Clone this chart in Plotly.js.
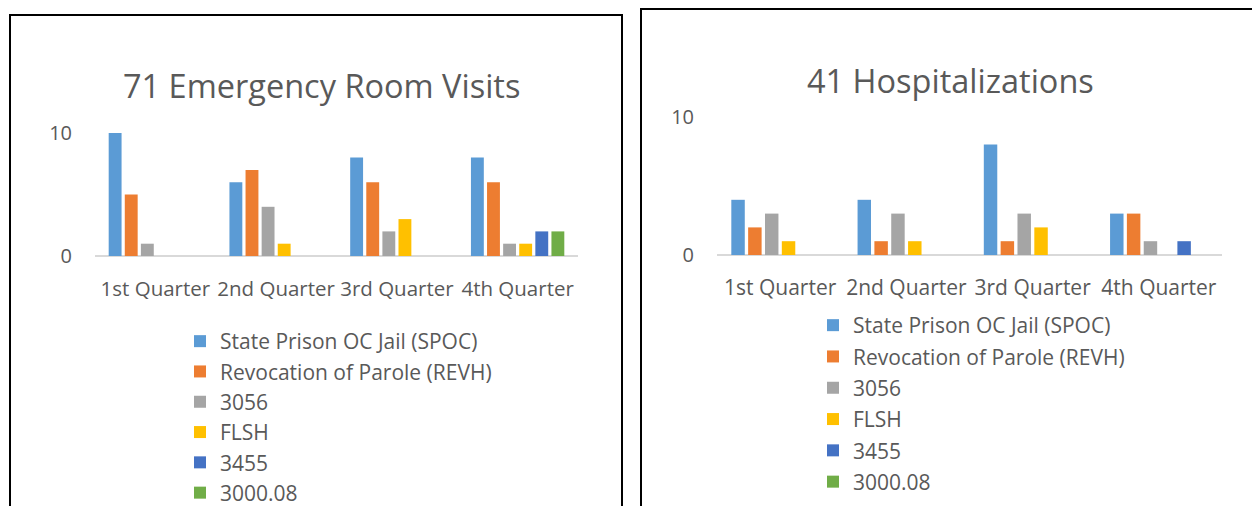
<!DOCTYPE html>
<html><head><meta charset="utf-8">
<script src="https://cdn.plot.ly/plotly-3.0.1.min.js"></script>
<style>html,body{margin:0;padding:0;background:#fff;overflow:hidden;width:1252px;height:506px}#c{width:1252px;height:560px}</style>
</head><body><div id="c"></div>
<script>
const categories = ['1st Quarter','2nd Quarter','3rd Quarter','4th Quarter'];
const seriesNames = ['State Prison OC Jail (SPOC)','Revocation of Parole (REVH)','3056','FLSH','3455','3000.08'];
const seriesColors = ['#5B9BD5','#ED7D31','#A5A5A5','#FFC000','#4472C4','#70AD47'];
// 71 Emergency Room Visits
const erSPOC = [10,6,8,8];
const erREVH = [5,7,6,6];
const er3056 = [1,4,2,1];
const erFLSH = [0,1,3,1];
const er3455 = [0,0,0,2];
const er300008 = [0,0,0,2];
// 41 Hospitalizations
const hoSPOC = [4,4,8,3];
const hoREVH = [2,1,1,3];
const ho3056 = [3,3,3,1];
const hoFLSH = [1,1,2,0];
const ho3455 = [0,0,0,1];
const ho300008 = [0,0,0,0];
const titleLeft = '71 Emergency Room Visits';
const titleRight = '41 Hospitalizations';

const W = 1252, H = 560;
const px = x => x / W;
const py = y => (H - y) / H;
const FONT = '"Open Sans", sans-serif';
const GRAY = '#595959';

const erData = [erSPOC, erREVH, er3056, erFLSH, er3455, er300008];
const hoData = [hoSPOC, hoREVH, ho3056, hoFLSH, ho3455, ho300008];

const traces = [];
erData.forEach((vals, i) => traces.push({
  type: 'bar', x: categories, y: vals, name: seriesNames[i],
  marker: {color: seriesColors[i]}, xaxis: 'x', yaxis: 'y',
  legend: 'legend', legendgroup: 'a' + i, hoverinfo: 'none'
}));
hoData.forEach((vals, i) => traces.push({
  type: 'bar', x: categories, y: vals, name: seriesNames[i],
  marker: {color: seriesColors[i]}, xaxis: 'x2', yaxis: 'y2',
  legend: 'legend2', legendgroup: 'b' + i, hoverinfo: 'none'
}));

const yax = (dom) => ({
  domain: dom, range: [0, 10], dtick: 10, tick0: 0, showgrid: true,
  gridcolor: '#D9D9D9', gridwidth: 2, zeroline: true, zerolinecolor: '#D9D9D9', zerolinewidth: 2,
  showline: false, ticks: '', ticklabelstandoff: 22, fixedrange: true, automargin: false,
  tickfont: {family: FONT, size: 20, color: GRAY}
});
const xax = (dom, anchor, fs) => ({
  domain: dom, anchor: anchor, type: 'category', showgrid: false, zeroline: false, showline: false,
  ticks: '', ticklabelstandoff: 18, fixedrange: true, automargin: false, tickangle: 0,
  tickfont: {family: FONT, size: fs, color: GRAY}
});
const legendCfg = (x, y, fs, gap) => ({
  x: x, y: y, xanchor: 'left', yanchor: 'top', orientation: 'v',
  traceorder: 'grouped', tracegroupgap: gap, bgcolor: 'rgba(0,0,0,0)',
  font: {family: FONT, size: fs, color: GRAY}, itemclick: false, itemdoubleclick: false
});

const layout = {
  width: W, height: H, margin: {l: 0, r: 0, t: 0, b: 0},
  paper_bgcolor: '#fff', plot_bgcolor: 'rgba(0,0,0,0)',
  barmode: 'group', bargap: 0.2, bargroupgap: 0.2, showlegend: true,
  xaxis: xax([px(95), px(578)], 'y', 20.5),
  yaxis: yax([py(256), py(133)]),
  xaxis2: xax([px(717), px(1222)], 'y2', 21),
  yaxis2: Object.assign(yax([py(255), py(117)]), {anchor: 'x2'}),
  legend: legendCfg(px(180), py(321), 21, 0),
  legend2: legendCfg(px(813), py(305), 21, 1),
  annotations: [
    {text: titleLeft, xref: 'paper', yref: 'paper', x: px(321), y: py(85), xanchor: 'center', yanchor: 'middle', showarrow: false, font: {family: FONT, size: 32.5, color: GRAY}},
    {text: titleRight, xref: 'paper', yref: 'paper', x: px(950), y: py(80), xanchor: 'center', yanchor: 'middle', showarrow: false, font: {family: FONT, size: 32.5, color: GRAY}}
  ],
  shapes: [
    {type: 'rect', xref: 'paper', yref: 'paper', x0: px(10), x1: px(622), y0: py(555), y1: py(15), line: {color: '#000', width: 2}, fillcolor: 'rgba(0,0,0,0)', layer: 'above'},
    {type: 'rect', xref: 'paper', yref: 'paper', x0: px(641), x1: px(1275), y0: py(555), y1: py(9), line: {color: '#000', width: 2}, fillcolor: 'rgba(0,0,0,0)', layer: 'above'}
  ]
};
Plotly.newPlot('c', traces, layout, {staticPlot: true, displayModeBar: false});
</script></body></html>
